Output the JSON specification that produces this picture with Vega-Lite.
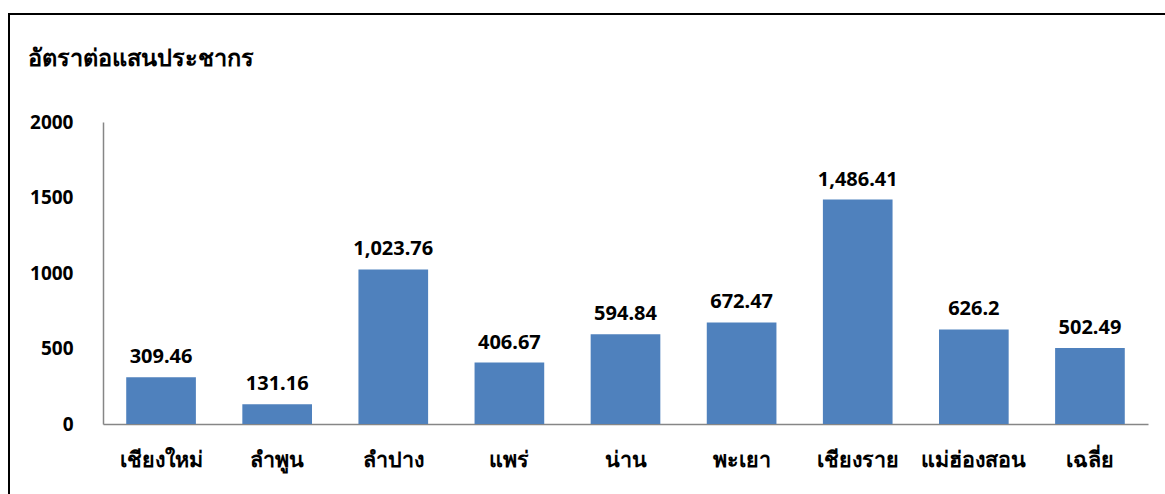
{
  "$schema": "https://vega.github.io/schema/vega-lite/v6.json",
  "autosize": "none",
  "padding": {"left": 9, "top": 14, "right": 0, "bottom": 0},
  "width": 1200,
  "height": 500,
  "background": "white",
  "config": {
    "view": {"stroke": "black", "strokeWidth": 2},
    "font": "Noto Sans"
  },
  "data": {
    "values": [
      {"province": "เชียงใหม่", "rate": 309.46},
      {"province": "ลำพูน", "rate": 131.16},
      {"province": "ลำปาง", "rate": 1023.76},
      {"province": "แพร่", "rate": 406.67},
      {"province": "น่าน", "rate": 594.84},
      {"province": "พะเยา", "rate": 672.47},
      {"province": "เชียงราย", "rate": 1486.41},
      {"province": "แม่ฮ่องสอน", "rate": 626.2},
      {"province": "เฉลี่ย", "rate": 502.49}
    ]
  },
  "encoding": {
    "x": {
      "field": "province",
      "type": "nominal",
      "sort": null,
      "scale": {"range": [94, 1139], "paddingInner": 0.4, "paddingOuter": 0.2},
      "axis": {
        "title": null,
        "offset": -90,
        "domainColor": "#868686",
        "domainWidth": 1.5,
        "ticks": false,
        "labelAngle": 0,
        "labelFontSize": 21.5,
        "labelFontWeight": "bold",
        "labelColor": "black",
        "labelPadding": 25
      }
    },
    "y": {
      "field": "rate",
      "type": "quantitative",
      "scale": {"domain": [0, 2000], "range": [410, 108], "nice": false},
      "axis": {
        "offset": -94,
        "values": [0, 500, 1000, 1500, 2000],
        "format": "d",
        "grid": false,
        "ticks": false,
        "domainColor": "#868686",
        "domainWidth": 1.5,
        "labelFontSize": 19,
        "labelFontWeight": "bold",
        "labelColor": "black",
        "labelPadding": 30,
        "title": "อัตราต่อแสนประชากร",
        "titleAngle": 0,
        "titleAlign": "left",
        "titleBaseline": "alphabetic",
        "titleX": -76,
        "titleY": 51,
        "titleFontSize": 23.5,
        "titleFontWeight": "bold",
        "titleColor": "black"
      }
    }
  },
  "layer": [
    {"mark": {"type": "bar", "color": "#4F81BD"}},
    {
      "mark": {"type": "text", "dy": -14, "baseline": "alphabetic", "fontSize": 20, "fontWeight": "bold", "color": "black"},
      "encoding": {"text": {"field": "rate", "type": "quantitative", "format": ",.2~f"}}
    }
  ]
}
